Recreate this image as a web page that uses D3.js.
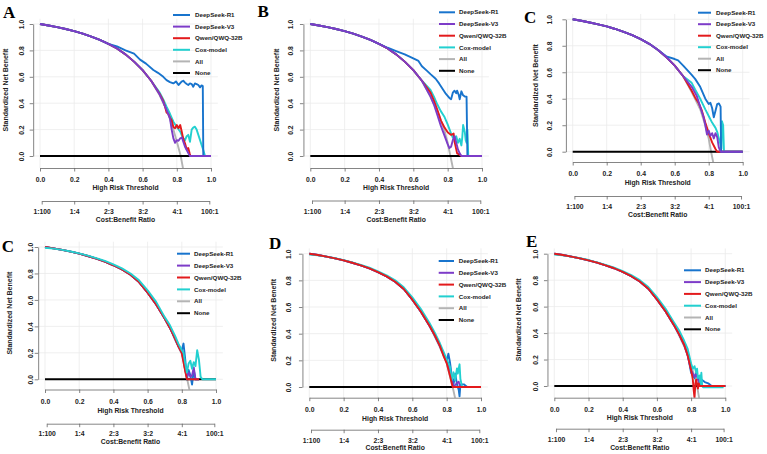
<!DOCTYPE html>
<html>
<head>
<meta charset="utf-8">
<script src="https://cdn.jsdelivr.net/npm/d3@7"></script>
<style>
  body { margin: 0; background: #fff; }
  svg text { font-family: "Liberation Sans", Arial, sans-serif; font-weight: bold; }
</style>
</head>
<body>
<svg id="fig" width="767" height="454"></svg>
<script>
// ---- data ----
const models = ["DeepSeek-R1", "DeepSeek-V3", "Qwen/QWQ-32B", "Cox-model"];
const legendLabels = ["DeepSeek-R1", "DeepSeek-V3", "Qwen/QWQ-32B", "Cox-model", "All", "None"];
const panelLetters = ["A", "B", "C", "C", "D", "E"];
const xTicks = [0, 0.2, 0.4, 0.6, 0.8, 1.0];
const yTicks = [0, 0.2, 0.4, 0.6, 0.8, 1.0];
const costLabels = ["1:100", "1:4", "2:3", "3:2", "4:1", "100:1"];

// shared early part of the curves (all series overlap there)
const headTop = [[0,1],[0.05,0.989],[0.1,0.976],[0.15,0.962],[0.2,0.946],[0.25,0.927],[0.3,0.905],[0.35,0.88],[0.4,0.85]];
const bodyTop = [[0.45,0.815],[0.5,0.77],[0.55,0.715],[0.6,0.65],[0.65,0.57]];
const headBottom = [[0,1],[0.05,0.99],[0.1,0.978],[0.15,0.965],[0.2,0.95],[0.25,0.932],[0.3,0.912],[0.35,0.89],[0.4,0.862],[0.45,0.83],[0.5,0.79],[0.55,0.735],[0.6,0.655],[0.65,0.565]];
const headBottomCox = [[0,0.994],[0.05,0.988],[0.1,0.978],[0.15,0.966],[0.2,0.952],[0.25,0.935],[0.3,0.916],[0.35,0.895],[0.4,0.868],[0.45,0.838],[0.5,0.8],[0.55,0.748],[0.6,0.672],[0.65,0.585]];

// panel A
const aR1 = [[0.45,0.83],[0.5,0.80],[0.55,0.775],[0.585,0.73],[0.62,0.70],[0.663,0.652],[0.69,0.63],[0.721,0.60],[0.74,0.575],[0.76,0.56],[0.78,0.55],[0.795,0.565],[0.81,0.538],[0.828,0.563],[0.838,0.57],[0.848,0.556],[0.858,0.545],[0.867,0.538],[0.877,0.55],[0.887,0.545],[0.896,0.525],[0.906,0.55],[0.916,0.545],[0.926,0.538],[0.936,0.52],[0.945,0.535],[0.952,0.53],[0.955,0],[1,0]];
const aV3 = [[0.7,0.465],[0.72,0.41],[0.74,0.35],[0.76,0.285],[0.77,0.2],[0.78,0.134],[0.79,0.10],[0.8,0.12],[0.81,0.115],[0.82,0.134],[0.83,0.14],[0.838,0.108],[0.848,0.07],[0.858,0.045],[0.868,0.02],[0.877,0],[1,0]];
const aQwen = [[0.7,0.47],[0.72,0.42],[0.73,0.38],[0.74,0.33],[0.75,0.32],[0.76,0.29],[0.77,0.27],[0.78,0.22],[0.79,0.21],[0.8,0.235],[0.81,0.21],[0.82,0.235],[0.828,0.19],[0.838,0.13],[0.848,0.096],[0.858,0.05],[0.867,0.06],[0.875,0.02],[0.88,0],[1,0]];
const aCox = [[0.7,0.48],[0.72,0.43],[0.74,0.373],[0.76,0.32],[0.78,0.26],[0.8,0.22],[0.82,0.184],[0.835,0.14],[0.848,0.12],[0.858,0.15],[0.867,0.16],[0.877,0.108],[0.887,0.2],[0.896,0.215],[0.906,0.222],[0.916,0.2],[0.926,0.16],[0.936,0.12],[0.946,0.08],[0.955,0.045],[0.965,0],[1,0]];
const aAll = [[0.7,0.46],[0.75,0.32],[0.78,0.2],[0.8,0.11],[0.823,0],[0.84,-0.12]];

// panel B
const bR1 = [[0.45,0.82],[0.5,0.795],[0.55,0.77],[0.6,0.74],[0.63,0.72],[0.65,0.68],[0.68,0.645],[0.7,0.62],[0.73,0.585],[0.75,0.55],[0.77,0.51],[0.79,0.47],[0.8,0.455],[0.81,0.44],[0.82,0.43],[0.83,0.48],[0.84,0.495],[0.85,0.475],[0.855,0.495],[0.865,0.46],[0.87,0.43],[0.88,0.49],[0.89,0.46],[0.9,0.45],[0.91,0.45],[0.915,0],[1,0]];
const bV3 = [[0.7,0.45],[0.72,0.39],[0.74,0.31],[0.76,0.23],[0.78,0.16],[0.8,0.09],[0.81,0.06],[0.82,0.07],[0.83,0.12],[0.84,0.15],[0.85,0.10],[0.86,0.05],[0.87,0.02],[0.88,0],[1,0]];
const bQwen = [[0.7,0.48],[0.72,0.42],[0.74,0.35],[0.76,0.27],[0.78,0.22],[0.8,0.18],[0.82,0.16],[0.835,0.17],[0.84,0.11],[0.85,0.05],[0.855,0.02],[0.87,0.01],[0.88,0],[1,0]];
const bCox = [[0.7,0.5],[0.72,0.45],[0.74,0.39],[0.76,0.34],[0.78,0.30],[0.8,0.24],[0.82,0.17],[0.83,0.14],[0.84,0.13],[0.85,0.15],[0.86,0.10],[0.87,0.13],[0.88,0.08],[0.885,0.14],[0.89,0.235],[0.9,0.18],[0.905,0.12],[0.91,0.10],[0.915,0.2],[0.92,0],[1,0]];
const bAll = [[0.7,0.45],[0.75,0.31],[0.78,0.2],[0.8,0.1],[0.816,0],[0.835,-0.12]];

// panel C (top)
const cR1 = [[0.55,0.72],[0.6,0.70],[0.62,0.69],[0.65,0.65],[0.7,0.58],[0.72,0.55],[0.75,0.49],[0.78,0.40],[0.8,0.36],[0.81,0.37],[0.82,0.33],[0.83,0.26],[0.84,0.31],[0.85,0.36],[0.86,0.365],[0.87,0.34],[0.873,0],[1,0]];
const cV3 = [[0.7,0.49],[0.73,0.42],[0.75,0.34],[0.77,0.26],[0.78,0.2],[0.79,0.13],[0.8,0.16],[0.81,0.12],[0.82,0.14],[0.83,0.10],[0.84,0.14],[0.85,0.11],[0.86,0.03],[0.87,0],[1,0]];
const cQwen = [[0.7,0.46],[0.72,0.41],[0.74,0.37],[0.76,0.31],[0.78,0.22],[0.8,0.14],[0.82,0.07],[0.84,0.02],[0.85,0],[1,0]];
const cCox = [[0.7,0.52],[0.72,0.47],[0.75,0.40],[0.78,0.32],[0.8,0.27],[0.82,0.22],[0.84,0.18],[0.85,0.15],[0.86,0.10],[0.87,0.05],[0.875,0.02],[0.878,0.23],[0.885,0.2],[0.89,0],[1,0]];
const cAll = [[0.7,0.45],[0.75,0.32],[0.78,0.2],[0.8,0.1],[0.814,0],[0.833,-0.12]];

// panel C (bottom)
const c2R1 = [[0.7,0.46],[0.73,0.39],[0.76,0.31],[0.78,0.25],[0.8,0.22],[0.81,0.27],[0.82,0.15],[0.83,0],[0.84,0.07],[0.85,0.03],[0.86,-0.04],[0.87,0.07],[0.88,0],[0.9,0]];
const c2V3 = [[0.7,0.46],[0.73,0.39],[0.76,0.31],[0.78,0.25],[0.8,0.2],[0.81,0.15],[0.82,0.07],[0.83,0.02],[0.84,0.05],[0.85,0.02],[0.86,0.03],[0.87,0.09],[0.88,0],[0.9,0]];
const c2Qwen = [[0.7,0.46],[0.73,0.39],[0.76,0.31],[0.78,0.25],[0.8,0.2],[0.81,0.13],[0.82,0.06],[0.83,0],[0.9,0]];
const c2Cox = [[0.7,0.47],[0.73,0.41],[0.76,0.33],[0.78,0.27],[0.8,0.22],[0.81,0.2],[0.82,0.12],[0.83,0.05],[0.84,0.12],[0.85,0.14],[0.86,0.08],[0.87,0.13],[0.88,0.10],[0.89,0.22],[0.9,0.15],[0.91,0.02],[0.92,0],[1,0]];
const c2All = [[0.7,0.46],[0.73,0.39],[0.76,0.3],[0.8,0.19],[0.83,0.01],[0.848,-0.1]];

// panel D
const dR1 = [[0.7,0.46],[0.73,0.39],[0.76,0.31],[0.78,0.25],[0.8,0.19],[0.81,0.25],[0.82,0.18],[0.83,0.08],[0.84,0.02],[0.85,0.10],[0.86,0.02],[0.87,-0.02],[0.875,-0.07],[0.88,0.02],[0.9,0.02],[0.92,0],[1,0]];
const dV3 = [[0.7,0.46],[0.73,0.39],[0.76,0.31],[0.78,0.25],[0.8,0.19],[0.82,0.12],[0.84,0],[0.86,0.03],[0.87,0.04],[0.88,0],[1,0]];
const dQwen = [[0.7,0.46],[0.73,0.39],[0.76,0.31],[0.78,0.24],[0.8,0.18],[0.82,0.08],[0.835,0],[1,0]];
const dCox = [[0.7,0.48],[0.73,0.41],[0.76,0.33],[0.78,0.27],[0.8,0.21],[0.82,0.15],[0.83,0.05],[0.84,0.11],[0.85,0.05],[0.86,0.14],[0.865,0.1],[0.87,0.14],[0.875,0.17],[0.88,0.06],[0.89,0],[1,0]];
const dAll = [[0.7,0.46],[0.76,0.3],[0.8,0.18],[0.835,0],[0.852,-0.1]];

// panel E
const eR1 = [[0.7,0.46],[0.73,0.39],[0.76,0.31],[0.78,0.24],[0.8,0.10],[0.81,0.08],[0.82,0.06],[0.83,0.10],[0.84,0.06],[0.85,0.02],[0.86,0.05],[0.88,0.03],[0.9,0.02],[0.92,0],[1,0]];
const eV3 = [[0.7,0.46],[0.73,0.39],[0.76,0.31],[0.78,0.23],[0.8,0.12],[0.82,0.07],[0.83,0.09],[0.84,0.05],[0.85,0.02],[0.86,0],[1,0]];
const eQwen = [[0.7,0.46],[0.73,0.39],[0.76,0.31],[0.78,0.23],[0.8,0.12],[0.81,0.05],[0.815,-0.03],[0.82,-0.09],[0.825,0.02],[0.83,0.05],[0.84,-0.02],[0.845,0.02],[0.85,0],[1,0]];
const eCox = [[0.7,0.48],[0.73,0.42],[0.76,0.34],[0.78,0.28],[0.8,0.17],[0.81,0.13],[0.82,0.15],[0.83,0.1],[0.835,0.13],[0.84,0.06],[0.85,0.08],[0.855,0],[0.86,0.1],[0.865,0],[0.87,-0.01],[0.99,-0.01]];
const eAll = [[0.7,0.46],[0.76,0.3],[0.8,0.16],[0.835,0],[0.848,-0.1]];

// ---- styling ----
const colors = {
  "DeepSeek-R1": "#1874cd",
  "DeepSeek-V3": "#7d3cc8",
  "Qwen/QWQ-32B": "#e31a1c",
  "Cox-model": "#22d0d0",
  "All": "#b4b4b4",
  "None": "#000000"
};

const panels = [
  { x0: 40, x1: 211, y1: 24, y0: 156, axisY: 168, xtickY: 180, xtitleY: 188, costY: 201, costLblY: 212, costTitleY: 219.5,
    ytickX: 22, ytitleX: 6, lx0: 173, lx1: 190, tx: 195, ly0: 15, ldy: 11.6, letX: 3, letY: 17.5,
    top: true, order: ["Cox-model", "Qwen/QWQ-32B", "DeepSeek-R1", "DeepSeek-V3"],
    curves: { "DeepSeek-R1": aR1, "DeepSeek-V3": aV3, "Qwen/QWQ-32B": aQwen, "Cox-model": aCox, "All": aAll } },
  { x0: 310.3, x1: 482, y1: 24, y0: 156, axisY: 168, xtickY: 180, xtitleY: 188, costY: 200.5, costLblY: 212, costTitleY: 220,
    ytickX: 291, ytitleX: 277, lx0: 439, lx1: 455, tx: 459, ly0: 12.3, ldy: 11.7, letX: 257.5, letY: 17,
    top: true, order: ["Cox-model", "Qwen/QWQ-32B", "DeepSeek-R1", "DeepSeek-V3"],
    curves: { "DeepSeek-R1": bR1, "DeepSeek-V3": bV3, "Qwen/QWQ-32B": bQwen, "Cox-model": bCox, "All": bAll } },
  { x0: 572.7, x1: 742.7, y1: 19.3, y0: 151.7, axisY: 162, xtickY: 174, xtitleY: 183, costY: 196, costLblY: 207, costTitleY: 215,
    ytickX: 550, ytitleX: 536, lx0: 698, lx1: 711, tx: 716, ly0: 12.7, ldy: 11.5, letX: 524, letY: 23.3,
    top: true, order: ["Cox-model", "Qwen/QWQ-32B", "DeepSeek-R1", "DeepSeek-V3"],
    curves: { "DeepSeek-R1": cR1, "DeepSeek-V3": cV3, "Qwen/QWQ-32B": cQwen, "Cox-model": cCox, "All": cAll } },
  { x0: 45, x1: 216, y1: 247, y0: 379.3, axisY: 389.5, xtickY: 401.3, xtitleY: 410.3, costY: 423.7, costLblY: 433.7, costTitleY: 442,
    ytickX: 31, ytitleX: 10, lx0: 177, lx1: 190, tx: 194, ly0: 253.7, ldy: 11.9, letX: 1.7, letY: 252,
    top: false, order: ["DeepSeek-R1", "DeepSeek-V3", "Qwen/QWQ-32B", "Cox-model"],
    curves: { "DeepSeek-R1": c2R1, "DeepSeek-V3": c2V3, "Qwen/QWQ-32B": c2Qwen, "Cox-model": c2Cox, "All": c2All } },
  { x0: 309.3, x1: 481, y1: 253.7, y0: 387, axisY: 397.7, xtickY: 409.7, xtitleY: 418.7, costY: 429.7, costLblY: 440.3, costTitleY: 447.7,
    ytickX: 289, ytitleX: 274, lx0: 438.7, lx1: 454, tx: 458.7, ly0: 261, ldy: 11.8, letX: 269, letY: 248.7,
    top: false, order: ["DeepSeek-R1", "DeepSeek-V3", "Cox-model", "Qwen/QWQ-32B"],
    curves: { "DeepSeek-R1": dR1, "DeepSeek-V3": dV3, "Qwen/QWQ-32B": dQwen, "Cox-model": dCox, "All": dAll } },
  { x0: 554.3, x1: 725.3, y1: 253.7, y0: 386, axisY: 397.7, xtickY: 409.7, xtitleY: 418, costY: 428.7, costLblY: 439.3, costTitleY: 447.7,
    ytickX: 536, ytitleX: 519, lx0: 684, lx1: 701, tx: 705, ly0: 270.3, ldy: 11.8, letX: 526, letY: 247,
    top: false, order: ["DeepSeek-R1", "DeepSeek-V3", "Cox-model", "Qwen/QWQ-32B"],
    curves: { "DeepSeek-R1": eR1, "DeepSeek-V3": eV3, "Qwen/QWQ-32B": eQwen, "Cox-model": eCox, "All": eAll } }
];

const svg = d3.select("#fig");
const costT = costLabels.map(s => { const [a, b] = s.split(":").map(Number); return a / (a + b); });

function fullSeries(p, name) {
  const tail = p.curves[name];
  const start = tail[0][0];
  let head;
  if (p.top) head = headTop.concat(bodyTop);
  else head = name === "Cox-model" ? headBottomCox : headBottom;
  return head.filter(d => d[0] < start).concat(tail);
}

panels.forEach((p, i) => {
  const g = svg.append("g");
  const x = d3.scaleLinear().domain([0, 1]).range([p.x0, p.x1]);
  const y = d3.scaleLinear().domain([0, 1]).range([p.y0, p.y1]);
  const left = x(-0.04), right = x(1.04), top = y(1.04), bottom = p.axisY;

  const clipId = "clip" + i;
  g.append("clipPath").attr("id", clipId)
    .append("rect").attr("x", left).attr("y", top).attr("width", right - left).attr("height", bottom - top);

  // grid
  g.append("g").selectAll("line").data(xTicks).join("line")
    .attr("x1", d => x(d)).attr("x2", d => x(d)).attr("y1", top).attr("y2", bottom)
    .attr("stroke", "#ebebeb").attr("stroke-width", 0.8);
  g.append("g").selectAll("line").data(yTicks).join("line")
    .attr("x1", left).attr("x2", right).attr("y1", d => y(d)).attr("y2", d => y(d))
    .attr("stroke", "#ebebeb").attr("stroke-width", 0.8);

  // curves
  const line = d3.line().x(d => x(d[0])).y(d => y(d[1]));
  const plot = g.append("g").attr("clip-path", `url(#${clipId})`);
  plot.append("path").datum(fullSeries(p, "All")).attr("d", line)
    .attr("fill", "none").attr("stroke", colors["All"]).attr("stroke-width", 1.9);
  plot.append("path").datum([[0, 0], [1, 0]]).attr("d", line)
    .attr("fill", "none").attr("stroke", colors["None"]).attr("stroke-width", 2);
  p.order.forEach(name => {
    plot.append("path").datum(fullSeries(p, name)).attr("d", line)
      .attr("fill", "none").attr("stroke", colors[name]).attr("stroke-width", 1.9)
      .attr("stroke-linejoin", "round");
  });

  // x axis
  const gx = g.append("g").attr("transform", `translate(0,${p.axisY})`)
    .call(d3.axisBottom(x).tickValues(xTicks).tickFormat(d3.format(".1f")).tickSize(3.5).tickSizeOuter(0));
  gx.selectAll("path,line").attr("stroke", "#666").attr("stroke-width", 0.8);
  gx.selectAll("text").attr("y", p.xtickY - p.axisY).attr("dy", "0.35em")
    .attr("font-size", 6.8).attr("fill", "#222").style("font-family", null);
  g.append("text").attr("x", (p.x0 + p.x1) / 2).attr("y", p.xtitleY).attr("dy", "0.35em")
    .attr("text-anchor", "middle").attr("font-size", 6.8).attr("fill", "#222").text("High Risk Threshold");

  // cost:benefit axis
  const xc = d3.scaleLinear().domain([costT[0], costT[costT.length - 1]])
    .range([x(costT[0]), x(costT[costT.length - 1])]);
  const gc = g.append("g").attr("transform", `translate(0,${p.costY})`)
    .call(d3.axisBottom(xc).tickValues(costT).tickFormat((d, k) => costLabels[k]).tickSize(3.5).tickSizeOuter(0));
  gc.selectAll("path,line").attr("stroke", "#666").attr("stroke-width", 0.8);
  gc.selectAll("text").attr("y", p.costLblY - p.costY).attr("dy", "0.35em")
    .attr("font-size", 6.8).attr("fill", "#222").style("font-family", null);
  g.append("text").attr("x", (p.x0 + p.x1) / 2).attr("y", p.costTitleY).attr("dy", "0.35em")
    .attr("text-anchor", "middle").attr("font-size", 6.8).attr("fill", "#222").text("Cost:Benefit Ratio");

  // y axis
  const gy = g.append("g").attr("transform", `translate(${left},0)`)
    .call(d3.axisLeft(y).tickValues(yTicks).tickFormat(d3.format(".1f")).tickSize(3.5).tickSizeOuter(0));
  gy.selectAll("path,line").attr("stroke", "#666").attr("stroke-width", 0.8);
  gy.selectAll("text")
    .attr("x", null).attr("dy", "0.35em")
    .attr("transform", `translate(${p.ytickX - left},0) rotate(-90)`)
    .attr("text-anchor", "middle").attr("font-size", 6.8).attr("fill", "#222").style("font-family", null);
  g.append("text")
    .attr("transform", `translate(${p.ytitleX},${(p.y0 + p.y1) / 2}) rotate(-90)`)
    .attr("dy", "0.35em").attr("text-anchor", "middle").attr("font-size", 7).attr("fill", "#222")
    .text("Standardized Net Benefit");

  // legend
  const lg = g.append("g");
  legendLabels.forEach((lab, k) => {
    const ly = p.ly0 + k * p.ldy;
    lg.append("line").attr("x1", p.lx0).attr("x2", p.lx1).attr("y1", ly).attr("y2", ly)
      .attr("stroke", colors[lab]).attr("stroke-width", 2);
    lg.append("text").attr("x", p.tx).attr("y", ly).attr("dy", "0.35em")
      .attr("font-size", 6.2).attr("fill", "#222").text(lab);
  });

  // panel letter
  g.append("text").attr("x", p.letX).attr("y", p.letY)
    .style("font-family", '"Liberation Serif", "Times New Roman", serif')
    .attr("font-size", 17).attr("font-weight", "bold").attr("fill", "#000")
    .text(panelLetters[i]);
});
</script>
</body>
</html>
